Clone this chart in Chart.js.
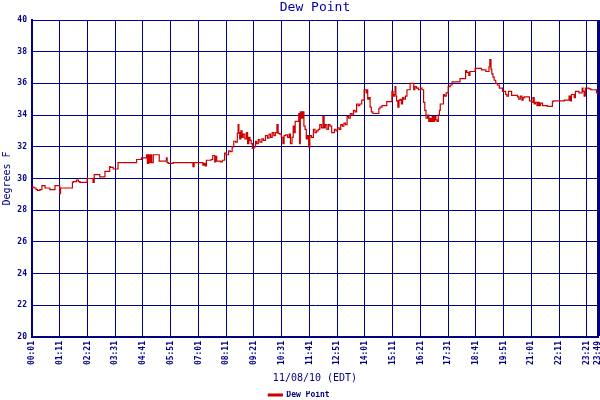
<!DOCTYPE html>
<html>
<head>
<meta charset="utf-8">
<title>Dew Point</title>
<script src="https://cdn.jsdelivr.net/npm/chart.js@4.4.1/dist/chart.umd.min.js"></script>
<style>
  body { margin: 0; background: #fff; }
  #wrap { width: 600px; height: 400px; }
</style>
</head>
<body>
<div id="wrap"><canvas id="dewChart" width="600" height="400"></canvas></div>
<script>
// Minutes after 00:01 for each reading, and the dew point (deg F) read at that time
const minutes = [
  0, 5, 10, 14, 20, 25, 28, 33, 36, 45, 48, 58, 62, 70, 72, 75, 90, 102, 104, 112,
  117, 121, 125, 139, 141, 154, 157, 160, 171, 173, 184, 186, 196, 198, 205, 207, 217, 220, 264, 266,
  276, 278, 289, 291, 294, 296, 299, 302, 306, 310, 321, 323, 339, 341, 344, 356, 360, 406, 409, 411,
  431, 434, 437, 440, 443, 452, 456, 461, 463, 466, 469, 475, 480, 486, 490, 496, 500, 505, 509, 514,
  518, 520, 522, 524, 527, 530, 533, 537, 541, 544, 547, 550, 553, 556, 560, 564, 567, 571, 575, 580,
  584, 589, 594, 598, 602, 606, 610, 614, 618, 621, 625, 629, 633, 636, 640, 645, 649, 652, 656, 659,
  662, 664, 668, 673, 675, 677, 680, 683, 686, 689, 692, 695, 698, 701, 705, 710, 714, 718, 722, 726,
  730, 734, 737, 740, 744, 748, 752, 756, 759, 763, 767, 771, 775, 779, 783, 787, 791, 795, 799, 803,
  807, 811, 815, 819, 823, 827, 832, 838, 843, 845, 847, 850, 853, 856, 860, 864, 875, 878, 883, 888,
  895, 902, 908, 911, 914, 916, 918, 920, 923, 926, 929, 932, 935, 938, 942, 946, 950, 954, 958, 963,
  966, 970, 975, 980, 984, 988, 991, 994, 998, 1001, 1004, 1007, 1010, 1013, 1016, 1019, 1022, 1025, 1028, 1030,
  1034, 1038, 1041, 1045, 1050, 1055, 1060, 1064, 1080, 1083, 1094, 1097, 1102, 1105, 1108, 1118, 1122, 1134, 1136, 1145,
  1148, 1153, 1155, 1158, 1160, 1163, 1166, 1170, 1174, 1179, 1183, 1187, 1190, 1195, 1198, 1202, 1205, 1210, 1213, 1225,
  1228, 1232, 1236, 1239, 1242, 1246, 1255, 1260, 1264, 1267, 1270, 1274, 1277, 1280, 1283, 1288, 1292, 1300, 1304, 1313,
  1315, 1317, 1343, 1346, 1355, 1358, 1361, 1363, 1368, 1371, 1373, 1380, 1384, 1388, 1390, 1393, 1396, 1399, 1405, 1410,
  1418, 1424, 1428
];
const dewPoint = [
  29.55, 29.45, 29.4, 29.3, 29.25, 29.3, 29.55, 29.55, 29.4, 29.4, 29.3, 29.3, 29.55, 29.55, 29.05, 29.4, 29.4, 29.4, 29.75, 29.8,
  29.9, 29.8, 29.75, 29.75, 30.0, 30.0, 29.75, 30.25, 30.25, 30.1, 30.1, 30.45, 30.45, 30.75, 30.7, 30.6, 30.6, 31.0, 31.0, 31.2,
  31.2, 31.3, 31.3, 31.5, 30.95, 31.5, 31.0, 31.5, 31.0, 31.5, 31.5, 31.1, 31.1, 31.3, 31.0, 30.95, 31.0, 31.0, 30.75, 31.0,
  31.0, 30.85, 30.95, 30.8, 31.15, 31.15, 31.2, 31.45, 31.05, 31.4, 31.1, 31.1, 31.05, 31.15, 31.6, 31.5, 31.75, 31.7, 32.0, 32.35,
  32.3, 32.85, 33.4, 32.9, 32.5, 33.0, 32.6, 32.8, 32.5, 32.9, 32.2, 32.6, 32.4, 32.2, 31.9, 32.0, 32.35, 32.2, 32.45, 32.3,
  32.5, 32.4, 32.7, 32.55, 32.8, 32.6, 32.9, 32.7, 32.9, 33.4, 32.85, 32.8, 32.6, 32.2, 32.7, 32.75, 32.6, 32.8, 32.2, 32.6,
  33.3, 32.9, 33.6, 33.6, 34.1, 32.2, 34.2, 33.8, 34.2, 33.3, 33.1, 32.5, 32.7, 32.0, 32.7, 32.6, 33.1, 32.9, 33.0, 33.1,
  33.4, 33.2, 33.9, 33.2, 33.4, 33.1, 33.4, 33.3, 32.9, 32.9, 33.1, 33.0, 33.2, 33.1, 33.4, 33.3, 33.5, 33.4, 33.9, 33.8,
  34.1, 34.0, 34.3, 34.2, 34.7, 34.6, 34.7, 34.95, 35.6, 35.4, 35.6, 35.0, 35.1, 34.5, 34.2, 34.1, 34.1, 34.4, 34.5, 34.6,
  34.6, 34.85, 34.85, 35.5, 35.2, 35.3, 35.8, 35.2, 34.9, 34.5, 34.95, 35.0, 34.7, 35.1, 35.0, 35.2, 35.6, 35.6, 36.0, 36.0,
  35.6, 35.8, 35.7, 35.6, 35.7, 35.6, 34.8, 34.3, 33.8, 34.0, 33.6, 33.8, 33.6, 33.9, 33.6, 33.9, 33.7, 33.6, 34.0, 34.3,
  34.7, 34.7, 35.3, 35.2, 35.4, 35.8, 35.9, 36.1, 36.1, 36.3, 36.3, 36.8, 36.7, 36.5, 36.75, 36.75, 36.95, 36.95, 36.85, 36.85,
  36.75, 36.75, 37.05, 37.5, 36.9, 36.6, 36.4, 36.2, 36.0, 35.9, 35.7, 35.7, 35.5, 35.5, 35.3, 35.2, 35.5, 35.5, 35.25, 35.25,
  35.15, 35.0, 35.2, 34.95, 35.1, 35.15, 35.15, 34.9, 34.8, 35.1, 34.7, 34.8, 34.6, 34.8, 34.6, 34.75, 34.6, 34.6, 34.55, 34.55,
  34.85, 34.9, 34.9, 34.95, 34.95, 35.2, 34.9, 35.3, 35.3, 35.1, 35.5, 35.5, 35.4, 35.4, 35.7, 35.5, 35.2, 35.7, 35.7, 35.65,
  35.6, 35.6, 35.4
];

// X axis tick positions (minutes after 00:01) and their labels
const tickMinutes = [0, 70, 140, 210, 280, 350, 420, 490, 560, 630, 700, 770, 840, 910, 980, 1050, 1120, 1190, 1260, 1330, 1400, 1428];
const tickLabels = ['00:01', '01:11', '02:21', '03:31', '04:41', '05:51', '07:01', '08:11', '09:21', '10:31', '11:41',
  '12:51', '14:01', '15:11', '16:21', '17:31', '18:41', '19:51', '21:01', '22:11', '23:21', '23:49'];

const navy = '#000080';
const mono = 'DejaVu Sans Mono';

const dewChart = new Chart(document.getElementById('dewChart').getContext('2d'), {
  type: 'line',
  data: {
    datasets: [{
      label: 'Dew Point',
      data: minutes.map((m, i) => ({ x: m, y: dewPoint[i] })),
      borderColor: '#cc0000',
      backgroundColor: '#cc0000',
      borderWidth: 1.2,
      pointRadius: 0,
      stepped: 'after',
      fill: false,
    }],
  },
  options: {
    responsive: false,
    devicePixelRatio: 1,
    animation: false,
    layout: { padding: { left: 0, right: 2, top: 0, bottom: 0 } },
    plugins: {
      title: {
        display: true,
        fullSize: false, // centre over the plot, not the canvas
        text: 'Dew Point',
        color: '#0000a0',
        font: { family: mono, size: 13, weight: 'normal' },
        padding: { top: 0, bottom: 4.4 },
      },
      legend: {
        display: true,
        position: 'bottom',
        maxHeight: 9,
        labels: {
          color: navy,
          font: { family: mono, size: 8, weight: 'bold' },
          boxWidth: 14,
          boxHeight: 2,
          padding: 0,
        },
      },
      tooltip: { enabled: false },
    },
    scales: {
      x: {
        type: 'linear',
        min: 0,
        max: 1428,
        afterBuildTicks: axis => {
          axis.ticks = tickMinutes.map(v => ({ value: v }));
        },
        afterFit: axis => {
          axis.height = 54;
          axis.paddingLeft = 0;
          axis.paddingRight = 0;
        },
        ticks: {
          autoSkip: false,
          minRotation: 90,
          maxRotation: 90,
          padding: 4,
          color: navy,
          font: { family: mono, size: 8, weight: 'bold' },
          callback: (value, index) => tickLabels[index],
        },
        grid: {
          color: navy,
          lineWidth: ctx => (ctx.tick && ctx.tick.value === 1428 ? 3 : 1),
          drawTicks: false,
        },
        border: { display: true, color: navy, width: 2 },
        title: {
          display: true,
          text: '11/08/10 (EDT)',
          color: navy,
          font: { family: mono, size: 10 },
          padding: { top: 0, bottom: 7 },
        },
      },
      y: {
        min: 20,
        max: 40,
        afterFit: axis => {
          axis.width = 32;
          axis.paddingTop = 0;
          axis.paddingBottom = 0;
        },
        ticks: {
          stepSize: 2,
          padding: 5,
          color: navy,
          font: { family: mono, size: 8, weight: 'bold' },
        },
        grid: {
          color: navy,
          lineWidth: 1,
          drawTicks: false,
        },
        border: { display: true, color: navy, width: 2 },
        title: {
          display: true,
          text: 'Degrees F',
          color: navy,
          font: { family: mono, size: 10 },
          padding: { top: 1, bottom: 0 },
        },
      },
    },
  },
});
</script>
</body>
</html>
